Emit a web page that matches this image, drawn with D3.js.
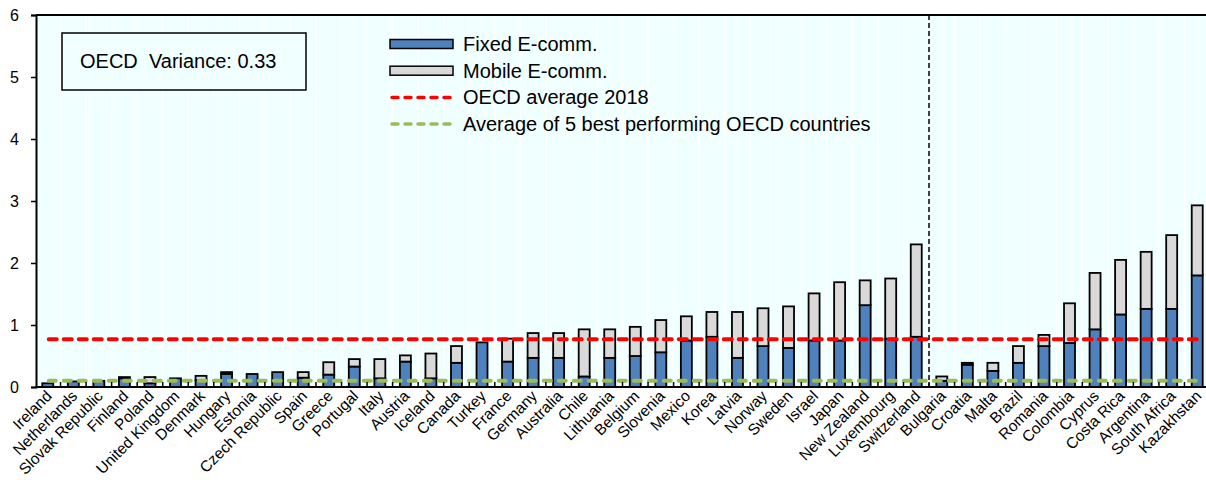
<!DOCTYPE html>
<html>
<head>
<meta charset="utf-8">
<script src="https://cdn.jsdelivr.net/npm/d3@7"></script>
<style>
html,body{margin:0;padding:0;background:#fff;}
svg{display:block;font-family:"Liberation Sans",Arial,sans-serif;}
</style>
</head>
<body>
<svg id="chart" width="1206" height="480"></svg>
<script>
const countries = ["Ireland","Netherlands","Slovak Republic","Finland","Poland","United Kingdom","Denmark","Hungary","Estonia","Czech Republic","Spain","Greece","Portugal","Italy","Austria","Iceland","Canada","Turkey","France","Germany","Australia","Chile","Lithuania","Belgium","Slovenia","Mexico","Korea","Latvia","Norway","Sweden","Israel","Japan","New Zealand","Luxembourg","Switzerland","Bulgaria","Croatia","Malta","Brazil","Romania","Colombia","Cyprus","Costa Rica","Argentina","South Africa","Kazakhstan"];
const fixedEcomm = [0.06,0.09,0.10,0.14,0.06,0.14,0.11,0.21,0.21,0.24,0.15,0.20,0.33,0.14,0.41,0.14,0.39,0.72,0.41,0.47,0.47,0.17,0.47,0.50,0.56,0.75,0.81,0.47,0.66,0.63,0.75,0.75,1.32,0.78,0.81,0.10,0.36,0.26,0.39,0.66,0.71,0.93,1.17,1.26,1.26,1.80];
const mobileEcomm = [0.00,0.00,0.00,0.02,0.10,0.00,0.07,0.03,0.00,0.00,0.09,0.20,0.12,0.31,0.10,0.40,0.27,0.00,0.37,0.40,0.40,0.76,0.46,0.47,0.52,0.39,0.40,0.74,0.61,0.67,0.76,0.94,0.40,0.97,1.49,0.07,0.03,0.13,0.27,0.18,0.64,0.91,0.88,0.92,1.19,1.13];
const oecdCount = 35;
const oecdAverage = 0.77;
const best5Average = 0.10;
const yTicks = [0,1,2,3,4,5,6];
const legendLabels = ["Fixed E-comm.","Mobile E-comm.","OECD average 2018","Average of 5 best performing OECD countries"];
const varianceLabel = "OECD  Variance: 0.33";

const svg = d3.select("#chart");
const pLeft = 35, pRight = 1210, pTop = 15, pBottom = 387;

const x = d3.scaleBand().domain(countries).range([pLeft, pRight]).paddingInner(0.57).paddingOuter(0.285);
const y = d3.scaleLinear().domain([0, 6]).range([pBottom, pTop]);
const step = x.step();
const cx = c => x(c) + x.bandwidth() / 2;

// background
svg.append("rect").attr("x", pLeft).attr("y", pTop).attr("width", pRight - pLeft).attr("height", pBottom - pTop).attr("fill", "#f0ffff");

// white vertical gridlines at category boundaries
svg.append("g").selectAll("line").data(d3.range(1, countries.length)).join("line")
  .attr("x1", i => pLeft + i * step).attr("x2", i => pLeft + i * step)
  .attr("y1", pTop).attr("y2", pBottom)
  .attr("stroke", "#ffffff").attr("stroke-width", 1.5);

const colBlue = "#4f81bd", colGrey = "#d9d9d9";

// bars
const bars = svg.append("g");
countries.forEach((c, i) => {
  const f = fixedEcomm[i], m = mobileEcomm[i];
  bars.append("rect").attr("x", x(c)).attr("width", x.bandwidth())
    .attr("y", y(f)).attr("height", y(0) - y(f))
    .attr("fill", colBlue).attr("stroke", "#000").attr("stroke-width", 1.8);
  if (m > 0) {
    bars.append("rect").attr("x", x(c)).attr("width", x.bandwidth())
      .attr("y", y(f + m)).attr("height", y(f) - y(f + m))
      .attr("fill", colGrey).attr("stroke", "#000").attr("stroke-width", 1.8);
  }
});

// average lines
const x0 = cx(countries[0]) + 1, x1 = cx(countries[countries.length - 1]);
svg.append("line").attr("x1", x0).attr("x2", x1).attr("y1", y(best5Average)).attr("y2", y(best5Average))
  .attr("stroke", "#9bbb59").attr("stroke-width", 4).attr("stroke-linecap", "round").attr("stroke-dasharray", "7,8");
svg.append("line").attr("x1", x0).attr("x2", x1).attr("y1", y(oecdAverage)).attr("y2", y(oecdAverage))
  .attr("stroke", "#ff0000").attr("stroke-width", 4).attr("stroke-linecap", "round").attr("stroke-dasharray", "8,7");

// divider between OECD and non-OECD
const divX = pLeft + oecdCount * step;
svg.append("line").attr("x1", divX).attr("x2", divX).attr("y1", pTop).attr("y2", pBottom)
  .attr("stroke", "#000").attr("stroke-width", 1.5).attr("stroke-dasharray", "5,3");

// y axis
const yAxis = svg.append("g").attr("transform", `translate(${pLeft + 1},0)`)
  .call(d3.axisLeft(y).tickValues(yTicks).tickSize(5).tickPadding(12).tickFormat(d3.format("d")));
yAxis.select(".domain").attr("stroke", "#000").attr("stroke-width", 2);
yAxis.selectAll(".tick line").attr("stroke", "#000").attr("stroke-width", 1.5);
yAxis.selectAll(".tick text").attr("font-size", 16).attr("fill", "#000").attr("font-family", "Liberation Sans, Arial, sans-serif");

// top border
svg.append("line").attr("x1", pLeft + 1).attr("x2", pRight).attr("y1", pTop).attr("y2", pTop).attr("stroke", "#000").attr("stroke-width", 2);

// x axis baseline + inward ticks at boundaries
svg.append("line").attr("x1", pLeft).attr("x2", pRight).attr("y1", pBottom).attr("y2", pBottom).attr("stroke", "#000").attr("stroke-width", 2.2);
svg.append("g").selectAll("line").data(d3.range(1, countries.length)).join("line")
  .attr("x1", i => pLeft + i * step).attr("x2", i => pLeft + i * step)
  .attr("y1", pBottom).attr("y2", pBottom - 5)
  .attr("stroke", "#000").attr("stroke-width", 1.5);

// x labels
svg.append("g").selectAll("text").data(countries).join("text")
  .attr("transform", d => `translate(${cx(d) + 5},${pBottom + 10}) rotate(-45)`)
  .attr("text-anchor", "end")
  .attr("font-size", 15.5)
  .attr("fill", "#000")
  .text(d => d);

// legend
const lg = svg.append("g");
const lx = 390, ly = 44, lstep = 26.7;
lg.append("rect").attr("x", lx).attr("y", ly - 4.5).attr("width", 63).attr("height", 9).attr("fill", colBlue).attr("stroke", "#000").attr("stroke-width", 1.5);
lg.append("rect").attr("x", lx).attr("y", ly + lstep - 4.5).attr("width", 63).attr("height", 9).attr("fill", colGrey).attr("stroke", "#000").attr("stroke-width", 1.5);
lg.append("line").attr("x1", lx + 2).attr("x2", lx + 62).attr("y1", ly + 2 * lstep).attr("y2", ly + 2 * lstep)
  .attr("stroke", "#ff0000").attr("stroke-width", 3.5).attr("stroke-linecap", "round").attr("stroke-dasharray", "6,7");
lg.append("line").attr("x1", lx + 2).attr("x2", lx + 62).attr("y1", ly + 3 * lstep).attr("y2", ly + 3 * lstep)
  .attr("stroke", "#9bbb59").attr("stroke-width", 3.5).attr("stroke-linecap", "round").attr("stroke-dasharray", "6,7");
lg.selectAll("text").data(legendLabels).join("text")
  .attr("x", 463).attr("y", (d, i) => ly + i * lstep + 7)
  .attr("font-size", 20).attr("fill", "#000").text(d => d);

// variance box
svg.append("rect").attr("x", 62).attr("y", 33).attr("width", 244).attr("height", 57)
  .attr("fill", "#f0ffff").attr("stroke", "#000").attr("stroke-width", 1.5);
svg.append("text").attr("x", 80).attr("y", 68).attr("font-size", 20).attr("fill", "#000")
  .attr("xml:space", "preserve").style("white-space", "pre").text(varianceLabel);
</script>
</body>
</html>
